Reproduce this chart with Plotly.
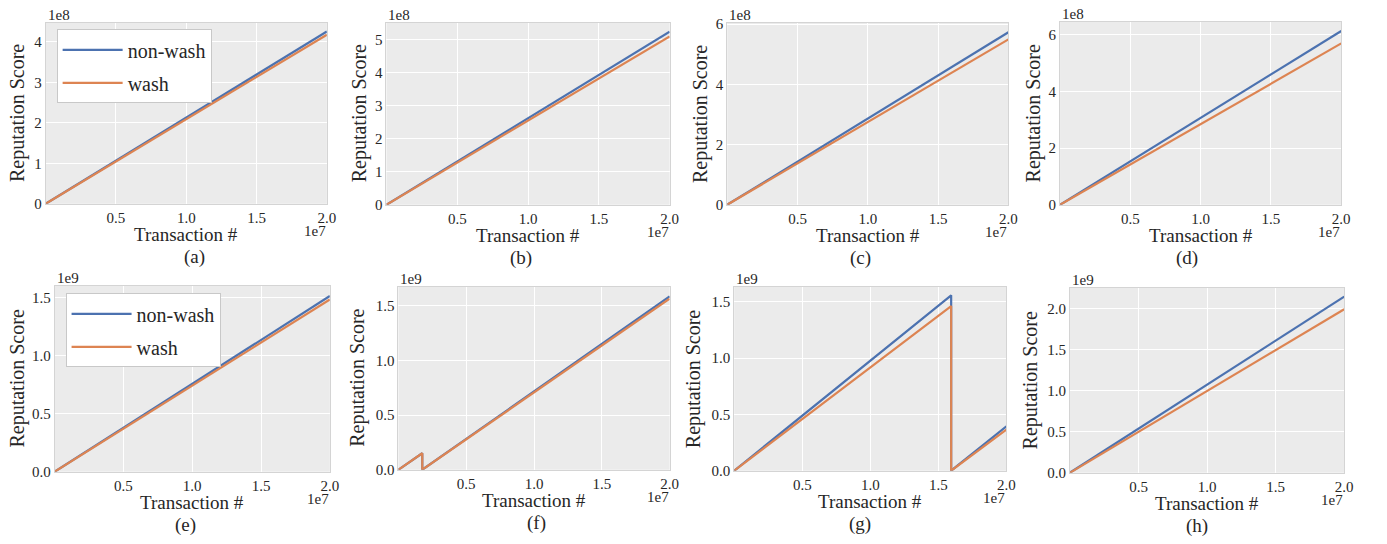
import plotly.graph_objects as go

W, H = 1387, 544

# ---------------- data ----------------
panel_labels = ["(a)", "(b)", "(c)", "(d)", "(e)", "(f)", "(g)", "(h)"]
series_names = ["non-wash", "wash"]

x_lin = [0, 2.0e7]
x_f = [0, 1.76e6, 1.76e6, 2.0e7]
x_g = [0, 1.594e7, 1.594e7, 2.0e7]

a_nonwash = [0, 4.26e8]
a_wash = [0, 4.18e8]
b_nonwash = [0, 5.24e8]
b_wash = [0, 5.10e8]
c_nonwash = [0, 5.73e8]
c_wash = [0, 5.49e8]
d_nonwash = [0, 6.13e8]
d_wash = [0, 5.69e8]
e_nonwash = [0, 1.515e9]
e_wash = [0, 1.485e9]
f_nonwash = [0, 0.151e9, 0, 1.588e9]
f_wash = [0, 0.151e9, 0, 1.567e9]
g_nonwash = [0, 1.557e9, 0, 0.395e9]
g_wash = [0, 1.462e9, 0, 0.366e9]
h_nonwash = [0, 2.146e9]
h_wash = [0, 1.992e9]

x_tickvals = [0.5e7, 1.0e7, 1.5e7, 2.0e7]
x_ticktext = ["0.5", "1.0", "1.5", "2.0"]

y_ticks_a = [0, 1e8, 2e8, 3e8, 4e8]
y_text_a = ["0", "1", "2", "3", "4"]
y_ticks_b = [0, 1e8, 2e8, 3e8, 4e8, 5e8]
y_text_b = ["0", "1", "2", "3", "4", "5"]
y_ticks_cd = [0, 2e8, 4e8, 6e8]
y_text_cd = ["0", "2", "4", "6"]
y_ticks_efg = [0, 0.5e9, 1.0e9, 1.5e9]
y_text_efg = ["0.0", "0.5", "1.0", "1.5"]
y_ticks_h = [0, 0.5e9, 1.0e9, 1.5e9, 2.0e9]
y_text_h = ["0.0", "0.5", "1.0", "1.5", "2.0"]

y_max = [4.48e8, 5.52e8, 6.05e8, 6.46e8, 1.605e9, 1.677e9, 1.635e9, 2.257e9]
y_exp = ["1e8", "1e8", "1e8", "1e8", "1e9", "1e9", "1e9", "1e9"]

# ---------------- layout geometry (pixels) ----------------
# (left, right, top, bottom)
boxes = [
    (46, 329, 17, 203),
    (389, 674, 17, 204),
    (732, 1015, 17, 204),
    (1067, 1350, 16, 204),
    (55, 332, 287, 478),
    (401, 674, 288, 476),
    (739, 1013, 288, 477),
    (1077, 1353, 289, 479),
]
ytitle_x = [17, 362, 705, 1040, 18, 360, 698, 1037]
caption_x = [196, 524, 866, 1195, 187, 540, 866, 1205]

panels = [
    (x_lin, a_nonwash, a_wash, y_ticks_a, y_text_a),
    (x_lin, b_nonwash, b_wash, y_ticks_b, y_text_b),
    (x_lin, c_nonwash, c_wash, y_ticks_cd, y_text_cd),
    (x_lin, d_nonwash, d_wash, y_ticks_cd, y_text_cd),
    (x_lin, e_nonwash, e_wash, y_ticks_efg, y_text_efg),
    (x_f, f_nonwash, f_wash, y_ticks_efg, y_text_efg),
    (x_g, g_nonwash, g_wash, y_ticks_efg, y_text_efg),
    (x_lin, h_nonwash, h_wash, y_ticks_h, y_text_h),
]

BLUE = "#4C72B0"
ORANGE = "#DD8452"
FONT = "Liberation Serif, DejaVu Serif, Times New Roman, Times, serif"
TXT = "#262626"

fig = go.Figure()
annotations = []
layout_axes = {}

for i, (xs, ynw, yw, yt, ytt) in enumerate(panels):
    n = i + 1
    xa = "x" if n == 1 else f"x{n}"
    ya = "y" if n == 1 else f"y{n}"
    legend_name = None
    if i == 0:
        legend_name = "legend"
    elif i == 4:
        legend_name = "legend2"
    for name, ys, col in ((series_names[0], ynw, BLUE), (series_names[1], yw, ORANGE)):
        tr = dict(x=xs, y=ys, mode="lines", name=name,
                  line=dict(color=col, width=2.2),
                  xaxis=xa, yaxis=ya, showlegend=legend_name is not None,
                  legendgroup=f"{name}{i}")
        if legend_name:
            tr["legend"] = legend_name
        fig.add_trace(go.Scatter(**tr))

    l, r, t, b = boxes[i]
    xdom = [l / W, r / W]
    ydom = [1 - b / H, 1 - t / H]
    axis_common = dict(showgrid=True, gridcolor="white", gridwidth=1.2,
                       showline=True, mirror=True, linecolor="#d4d4d4", linewidth=1,
                       zeroline=False, ticks="",
                       tickfont=dict(family=FONT, size=15, color=TXT))
    layout_axes["xaxis" if n == 1 else f"xaxis{n}"] = dict(
        domain=xdom, range=[0, 2.0e7], anchor=ya,
        tickmode="array", tickvals=x_tickvals, ticktext=x_ticktext, **axis_common)
    layout_axes["yaxis" if n == 1 else f"yaxis{n}"] = dict(
        domain=ydom, range=[0, y_max[i]], anchor=xa,
        tickmode="array", tickvals=yt, ticktext=ytt, **axis_common)

    cx = (l + r) / 2
    cy = (t + b) / 2
    annotations.append(dict(text="Reputation Score", x=ytitle_x[i] / W, y=1 - cy / H,
                            xref="paper", yref="paper", textangle=-90, showarrow=False,
                            xanchor="center", yanchor="middle",
                            font=dict(family=FONT, size=20, color=TXT)))
    annotations.append(dict(text="Transaction #", x=cx / W, y=1 - (b + 32) / H,
                            xref="paper", yref="paper", showarrow=False,
                            xanchor="center", yanchor="middle",
                            font=dict(family=FONT, size=19, color=TXT)))
    annotations.append(dict(text=panel_labels[i], x=caption_x[i] / W, y=1 - (b + 55) / H,
                            xref="paper", yref="paper", showarrow=False,
                            xanchor="center", yanchor="middle",
                            font=dict(family=FONT, size=19, color=TXT)))
    annotations.append(dict(text=y_exp[i], x=l / W, y=1 - (t - 8) / H,
                            xref="paper", yref="paper", showarrow=False,
                            xanchor="left", yanchor="middle",
                            font=dict(family=FONT, size=15, color=TXT)))
    annotations.append(dict(text="1e7", x=(r + 1) / W, y=1 - (b + 28) / H,
                            xref="paper", yref="paper", showarrow=False,
                            xanchor="right", yanchor="middle",
                            font=dict(family=FONT, size=15, color=TXT)))

legend_common = dict(bgcolor="white", bordercolor="#c8c8c8", borderwidth=1,
                     font=dict(family=FONT, size=20, color=TXT),
                     xanchor="left", yanchor="top", tracegroupgap=4,
                     itemwidth=60)

fig.update_layout(
    width=W, height=H,
    margin=dict(l=0, r=0, t=0, b=0),
    paper_bgcolor="white",
    plot_bgcolor="#ebebeb",
    font=dict(family=FONT, color=TXT),
    annotations=annotations,
    legend=dict(x=57 / W, y=1 - 24 / H, **legend_common),
    legend2=dict(x=66 / W, y=1 - 295 / H, **legend_common),
    **layout_axes,
)

fig.write_html("out.html",
               config={"displayModeBar": False},
               post_script="document.body.style.margin='0';document.body.style.overflow='hidden';")
